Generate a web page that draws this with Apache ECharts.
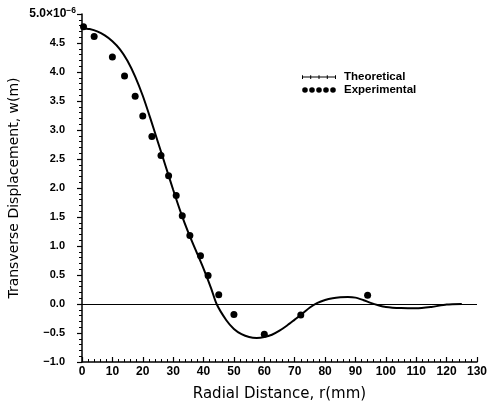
<!DOCTYPE html>
<html>
<head>
<meta charset="utf-8">
<script src="https://cdn.jsdelivr.net/npm/echarts@6/dist/echarts.min.js"></script>
<style>
  html, body { margin: 0; padding: 0; background: #fff; }
  #chart { width: 488px; height: 404px; }
</style>
</head>
<body>
<div id="chart"></div>
<script>
// theoretical curve, r (mm) and w (x1e-6 m)
var theoR = [0, 2.5, 5, 7.5, 10, 12.5, 15, 17.5, 20, 22.5, 25, 27.5, 30, 32.5, 35, 37.5, 40, 42.5, 44.3,
  47.5, 50, 52.5, 55, 57.5, 60, 62.5, 65, 67.5, 70, 72.5, 75, 77.5, 80, 82.5, 85, 87.5, 90, 92.5, 95,
  97.5, 100, 105, 110, 115, 120, 125]
var theoW = [4.76, 4.74, 4.70, 4.63, 4.53, 4.39, 4.19, 3.92, 3.59, 3.20, 2.79, 2.38, 1.97, 1.58, 1.23, 0.92, 0.61, 0.27, 0,
  -0.28, -0.43, -0.52, -0.57, -0.585, -0.57, -0.53, -0.46, -0.37, -0.27, -0.17, -0.06, 0.02, 0.07, 0.10, 0.115, 0.12, 0.11, 0.07, 0.02,
  -0.02, -0.05, -0.07, -0.075, -0.05, -0.01, 0]

// experimental points
var expR = [0.5, 4, 10, 14, 17.5, 20, 23, 26, 28.5, 31, 33, 35.5, 39, 41.5, 45, 50, 60, 72, 94]
var expW = [4.78, 4.61, 4.26, 3.93, 3.58, 3.24, 2.89, 2.56, 2.21, 1.87, 1.52, 1.18, 0.83, 0.49, 0.16, -0.18, -0.52, -0.19, 0.15]

var xTicks = [0, 130, 10]
var yTicks = [-1, 5, 0.5]

function pairs(xs, ys) {
  return xs.map(function (x, i) { return [x, ys[i]] })
}

var theoIcon = 'path://M0,2.6 L34,2.6 L34,3.6 L0,3.6 Z M0,1.2 L1,1.2 L1,5 L0,5 Z M8.2,1.2 L9.2,1.2 L9.2,5 L8.2,5 Z ' +
  'M16.5,1.2 L17.5,1.2 L17.5,5 L16.5,5 Z M24.8,1.2 L25.8,1.2 L25.8,5 L24.8,5 Z M33,1.2 L34,1.2 L34,5 L33,5 Z M0,0 L0.01,0 L0.01,6 L0,6 Z'
var expIcon = 'path://M0.2,3 A2.8,2.8 0 1,0 5.8,3 A2.8,2.8 0 1,0 0.2,3 Z M7.2,3 A2.8,2.8 0 1,0 12.8,3 A2.8,2.8 0 1,0 7.2,3 Z ' +
  'M14.2,3 A2.8,2.8 0 1,0 19.8,3 A2.8,2.8 0 1,0 14.2,3 Z M21.2,3 A2.8,2.8 0 1,0 26.8,3 A2.8,2.8 0 1,0 21.2,3 Z ' +
  'M28.2,3 A2.8,2.8 0 1,0 33.8,3 A2.8,2.8 0 1,0 28.2,3 Z M0,0 L0.01,0 L0.01,6 L0,6 Z M33.99,0 L34,0 L34,6 L33.99,6 Z'

var chart = echarts.init(document.getElementById('chart'))
chart.setOption({
  animation: false,
  textStyle: { fontFamily: 'Liberation Sans', color: '#000' },
  grid: { left: 82, right: 11, top: 14, bottom: 42, containLabel: false, outerBoundsMode: 'none' },
  legend: {
    left: 297,
    top: 66,
    orient: 'vertical',
    itemWidth: 34,
    itemHeight: 6,
    itemGap: 1,
    textStyle: { fontSize: 11.5, fontWeight: 'bold', color: '#000', padding: [0, 0, 0, 3] },
    data: [
      { name: 'Theoretical', icon: theoIcon },
      { name: 'Experimental', icon: expIcon }
    ]
  },
  xAxis: {
    type: 'value',
    min: xTicks[0],
    max: xTicks[1],
    interval: xTicks[2],
    name: 'Radial Distance, r(mm)',
    nameLocation: 'middle',
    nameGap: 25,
    nameMoveOverlap: false,
    nameTextStyle: { fontFamily: 'DejaVu Sans', fontSize: 15, color: '#000' },
    axisLine: { onZero: false, lineStyle: { color: '#000', width: 1.5 } },
    axisTick: { inside: true, length: 5, lineStyle: { color: '#000', width: 1.2 } },
    minorTick: { show: true, splitNumber: 5, length: 3, lineStyle: { color: '#000', width: 1 } },
    splitLine: { show: false },
    axisLabel: { margin: 4, fontSize: 12, fontWeight: 'bold', color: '#000' }
  },
  yAxis: {
    type: 'value',
    min: yTicks[0],
    max: yTicks[1],
    interval: yTicks[2],
    name: 'Transverse Displacement, w(m)',
    nameLocation: 'middle',
    nameGap: 61,
    nameMoveOverlap: false,
    nameTextStyle: { fontFamily: 'DejaVu Sans', fontSize: 14, color: '#000' },
    axisLine: { onZero: false, lineStyle: { color: '#000', width: 1.5 } },
    axisTick: { length: 5, lineStyle: { color: '#000', width: 1.2 } },
    minorTick: { show: true, splitNumber: 5, length: 3, lineStyle: { color: '#000', width: 1 } },
    splitLine: { show: false },
    axisLabel: {
      margin: 6,
      fontSize: 11,
      color: '#000',
      formatter: function (v) {
        if (v === 5) return '{t|5.0×10}{s|−6}'
        return '{n|' + (v < 0 ? '−' : '') + Math.abs(v).toFixed(1) + '}'
      },
      rich: {
        n: { fontSize: 11, fontWeight: 'bold', padding: [0, 11, 0, 0] },
        t: { fontSize: 12, fontWeight: 'bold' },
        s: { fontSize: 8.5, fontWeight: 'bold', verticalAlign: 'top', padding: [0, 0, 6, 0] }
      }
    }
  },
  series: [
    {
      name: 'Theoretical',
      type: 'line',
      smooth: 0.25,
      showSymbol: false,
      data: pairs(theoR, theoW),
      lineStyle: { color: '#000', width: 2 },
      itemStyle: { color: '#000' },
      markLine: {
        silent: true,
        symbol: 'none',
        label: { show: false },
        lineStyle: { color: '#000', width: 1, type: 'solid' },
        data: [{ yAxis: 0 }]
      }
    },
    {
      name: 'Experimental',
      type: 'scatter',
      data: pairs(expR, expW),
      symbolSize: 7,
      itemStyle: { color: '#000', opacity: 1 }
    }
  ]
})
</script>
</body>
</html>
